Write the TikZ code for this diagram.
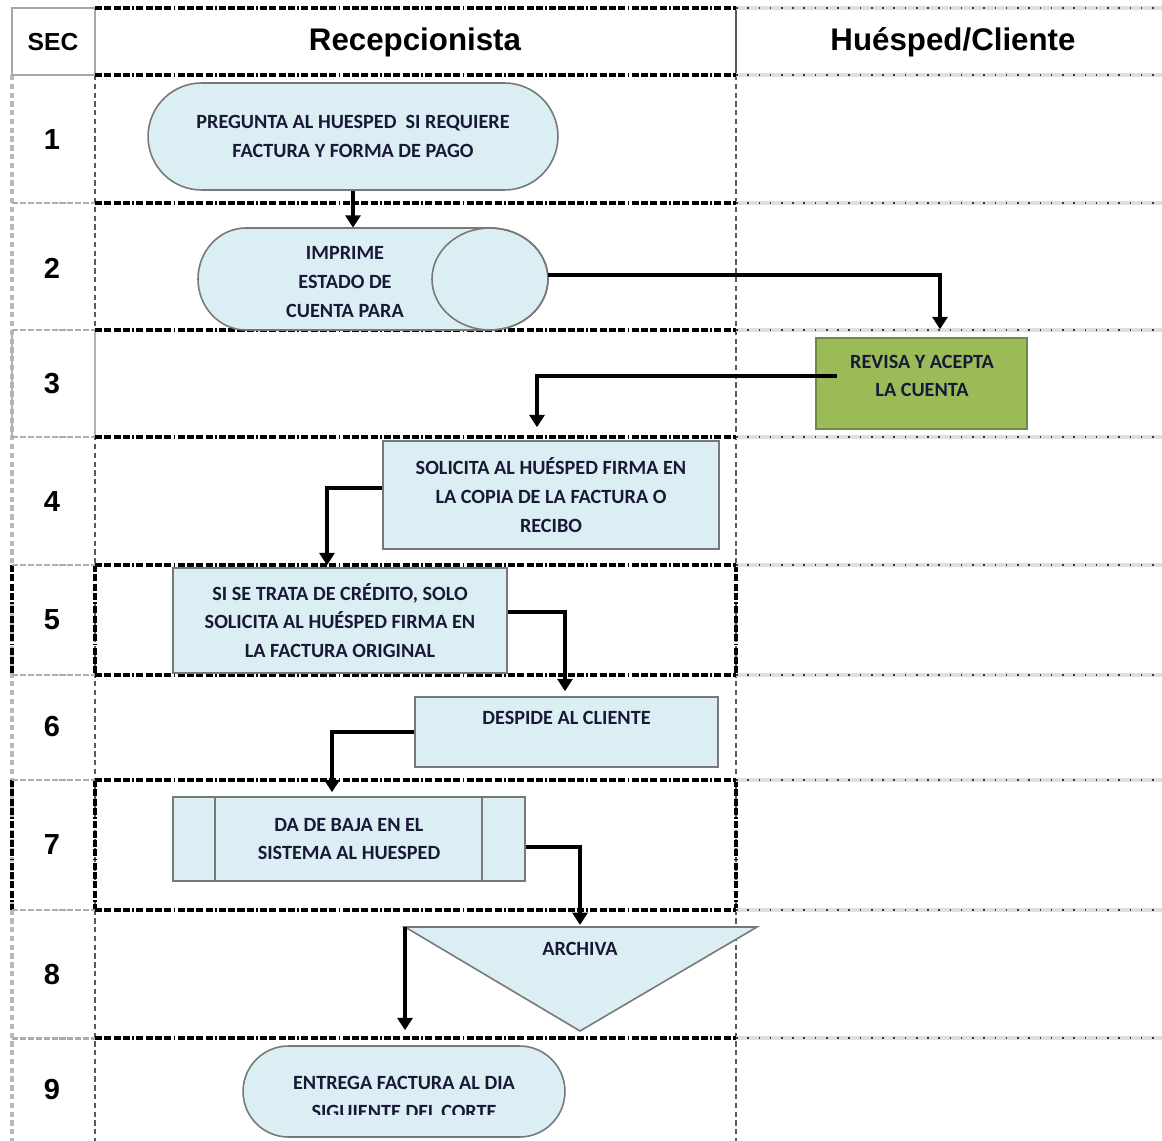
\documentclass[tikz,border=0pt]{standalone}
\usepackage{fontspec}
\setmainfont{Liberation Sans}
\newfontfamily\calfont{Carlito}
\usetikzlibrary{arrows.meta,shapes.misc,calc}

\definecolor{boxblue}{RGB}{219,238,244}
\definecolor{boxedge}{RGB}{120,120,120}
\definecolor{gfill}{RGB}{155,187,89}
\definecolor{gedge}{RGB}{113,137,63}
\definecolor{txt}{RGB}{25,25,55}

\begin{document}
\begin{tikzpicture}[x=0.02cm,y=-0.02cm,
  lane/.style={line width=1.9pt, black, dash pattern=on 4pt off 1.3pt on 4pt off 1.3pt on 4pt off 1.3pt on 4pt off 1.3pt on 1pt off 1.3pt},
  secline/.style={line width=1.7pt, gray!65, dash pattern=on 3.5pt off 1pt},
  rgrid/.style={line width=2.2pt, gray!25},
  rdots/.style={line width=1pt, gray!45!black, dash pattern=on 0.9pt off 5.5pt},
  vthick/.style={line width=1.8pt, gray!55, dash pattern=on 3pt off 2pt},
  vthin/.style={line width=0.7pt, gray!70!black, dash pattern=on 3pt off 2pt},
  hdr/.style={font=\bfseries\fontsize{17.8}{20}\selectfont, text=black},
  num/.style={font=\bfseries\fontsize{16.5}{19}\selectfont, text=black},
  tx/.style={align=center, font=\calfont\bfseries\fontsize{11.5}{16.4}\selectfont, text=txt, inner sep=0pt},
  proc/.style={tx, draw=boxedge, fill=boxblue, line width=0.9pt},
  arr/.style={line width=2.2pt, -{Triangle[length=7pt,width=8.5pt]}}
]
\useasboundingbox (0,0) rectangle (1162,1141);

% ---------- grid ----------
% verticals
\draw[vthick] (12,75) -- (12,1141);
\draw[vthin] (95,75) -- (95,1141);
\draw[vthin] (736,75) -- (736,1141);
\draw[line width=1.2pt, gray!60] (12,330) -- (12,437) (95,330) -- (95,437);
\draw[lane] (12,565) -- (12,675) (95,565) -- (95,675) (736,565) -- (736,675);
\draw[lane] (12,780) -- (12,910) (95,780) -- (95,910) (736,780) -- (736,910);

% header
\draw[gray!70, line width=1.4pt] (12,8) rectangle (95,75);
\draw[gray!70!black, line width=0.9pt] (736,8) -- (736,75);
\draw[lane] (95,8) -- (736,8);
\draw[lane] (95,75) -- (736,75);
\draw[rgrid] (736,8) -- (1162,8);
\draw[rdots] (736,8) -- (1162,8);
\draw[rgrid] (736,75) -- (1162,75);
\draw[rdots] (736,75) -- (1162,75);

% row lines
\foreach \y in {203,330,437,565,675,780,910,1038}{
  \draw[secline] (12,\y) -- (95,\y);
  \draw[lane] (95,\y) -- (736,\y);
  \draw[rgrid] (736,\y) -- (1162,\y);
  \draw[rdots] (736,\y) -- (1162,\y);
}

% headers
\node[hdr, font=\bfseries\fontsize{14}{16}\selectfont] (hsec) at (53,42) {SEC};
\node[hdr] (hrec) at (415,42) {Recepcionista};
\node[hdr] (hhue) at (953,42) {Huésped/Cliente};

% row numbers
\node[num] (s1) at (52,140) {1};
\node[num] (s2) at (52,268) {2};
\node[num] (s3) at (52,384) {3};
\node[num] (s4) at (52,502) {4};
\node[num] (s5) at (52,620) {5};
\node[num] (s6) at (52,727) {6};
\node[num] (s7) at (52,845) {7};
\node[num] (s8) at (52,975) {8};
\node[num] (s9) at (52,1090) {9};

% ---------- shapes ----------
% 1 terminal
\node[proc, rounded rectangle, minimum width=8.2cm, minimum height=2.14cm] (n1) at (353,136.5)
  {PREGUNTA AL HUESPED \ SI REQUIERE\\FACTURA Y FORMA DE PAGO};

% 2 stored data (horizontal cylinder)
\path[fill=boxblue, draw=boxedge, line width=0.9pt]
  (490,228) -- (246,228) arc[start angle=270, end angle=90, x radius=48, y radius=51]
  -- (490,330) arc[start angle=90, end angle=-90, x radius=58, y radius=51] -- cycle;
\draw[boxedge, line width=0.9pt] (490,279) ellipse [x radius=58, y radius=51];
\node[minimum width=7cm, minimum height=2.04cm, inner sep=0pt] (n2) at (373,279) {};
\node[tx] (n2t) at (345,282) {IMPRIME\\ESTADO DE\\CUENTA PARA};

% 3 green process
\node[tx, draw=gedge, fill=gfill, line width=0.9pt, minimum width=4.22cm, minimum height=1.82cm] (n3) at (921.5,383.5) {};
\node[tx] (n3t) at (922,376) {REVISA Y ACEPTA\\LA CUENTA};

% 4
\node[proc, minimum width=6.72cm, minimum height=2.16cm] (n4) at (551,495)
  {SOLICITA AL HUÉSPED FIRMA EN\\LA COPIA DE LA FACTURA O\\RECIBO};

% 5
\node[proc, minimum width=6.68cm, minimum height=2.1cm] (n5) at (340,620.5)
  {SI SE TRATA DE CRÉDITO, SOLO\\SOLICITA AL HUÉSPED FIRMA EN\\LA FACTURA ORIGINAL};

% 6
\node[proc, minimum width=6.06cm, minimum height=1.4cm] (n6) at (566.5,732)
  {DESPIDE AL CLIENTE\\\mbox{}};

% 7 predefined process
\node[proc, minimum width=7.04cm, minimum height=1.68cm] (n7) at (349,839)
  {DA DE BAJA EN EL\\SISTEMA AL HUESPED};
\draw[boxedge, line width=0.9pt] ([xshift=0.86cm]n7.north west) -- ([xshift=0.86cm]n7.south west);
\draw[boxedge, line width=0.9pt] ([xshift=-0.88cm]n7.north east) -- ([xshift=-0.88cm]n7.south east);

% 8 merge triangle
\draw[fill=boxblue, draw=boxedge, line width=0.9pt] (405,927) -- (757,927) -- (580,1031) -- cycle;
\coordinate (n8a) at (580,927);
\coordinate (n8b) at (405,927);
\node[tx] (n8) at (580,949) {ARCHIVA};

% 9 terminal
\node[proc, rounded rectangle, minimum width=6.44cm, minimum height=1.82cm] (n9) at (404,1091.5) {};
\begin{scope}
  \clip (0,0) rectangle (1162,1114);
  \node[tx] (n9t) at (404,1097.5) {ENTREGA FACTURA AL DIA\\SIGUIENTE DEL CORTE};
\end{scope}

% ---------- connectors ----------
\draw[arr] (n1.south) -- (n1.south |- n2.north);
\draw[arr, shorten >=0.16cm] ([yshift=0.08cm]n2.east) -| ([xshift=0.37cm]n3.north);
\draw[arr, shorten >=0.26cm] ([xshift=0.44cm,yshift=0.15cm]n3.west) -| ([xshift=-0.28cm]n4.north);
\draw[arr, shorten >=0.04cm] ([yshift=0.14cm]n4.west) -| ([xshift=-0.26cm]n5.north);
\draw[arr, shorten >=0.1cm] ([yshift=0.17cm]n5.east) -| ([xshift=-0.03cm]n6.north);
\draw[arr, shorten >=0.08cm] (n6.west) -| ([xshift=-0.34cm]n7.north);
\draw[arr, shorten >=0.04cm] ([yshift=-0.16cm]n7.east) -| (n8a);
\draw[arr, shorten >=0.3cm] (n8b) -- (n8b |- n9.north);
\end{tikzpicture}
\end{document}
